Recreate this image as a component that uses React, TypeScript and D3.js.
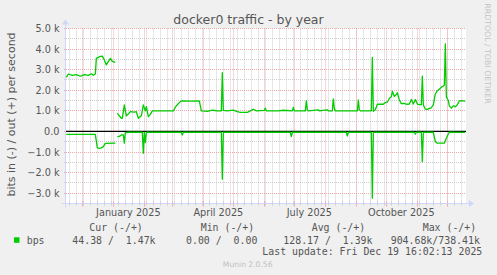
import React from "react";
import * as d3 from "d3";

const W = 497;
const H = 275;
const startTime = new Date(Date.UTC(2024, 10, 14, 16, 2, 13));
const endTime = new Date(Date.UTC(2025, 11, 19, 16, 2, 13));

// bits out (+) per second
const outSeries: [string, number | null][] = [
  ["2024-11-15", 2630], ["2024-11-17", 2790], ["2024-11-21", 2720], ["2024-11-25", 2760],
  ["2024-11-29", 2680], ["2024-12-03", 2760], ["2024-12-07", 2720], ["2024-12-10", 2800],
  ["2024-12-12", 2730], ["2024-12-14", 2790], ["2024-12-15", 3550], ["2024-12-17", 3600],
  ["2024-12-19", 3650], ["2024-12-21", 3660], ["2024-12-23", 3470], ["2024-12-25", 3230],
  ["2024-12-27", 3390], ["2024-12-29", 3550], ["2024-12-31", 3400], ["2025-01-03", 3360],
  ["2025-01-04", null],
  ["2025-01-05", 880], ["2025-01-09", 640], ["2025-01-10", 650], ["2025-01-12", 1290],
  ["2025-01-14", 760], ["2025-01-16", 850], ["2025-01-18", 960], ["2025-01-22", 940],
  ["2025-01-24", 960], ["2025-01-26", 640], ["2025-01-29", 760], ["2025-01-31", 1290],
  ["2025-02-02", 1000], ["2025-02-03", 1200], ["2025-02-05", 720], ["2025-02-07", 830],
  ["2025-02-09", 1000], ["2025-02-28", 1000], ["2025-03-02", 1000], ["2025-03-05", 1250],
  ["2025-03-09", 1450], ["2025-03-11", 1480], ["2025-03-20", 1470], ["2025-03-28", 1480],
  ["2025-03-30", 1000], ["2025-04-05", 980], ["2025-04-10", 1030], ["2025-04-15", 1000],
  ["2025-04-19", 1000], ["2025-04-20", 2850], ["2025-04-21", 1020], ["2025-04-25", 1000],
  ["2025-05-01", 1040], ["2025-05-05", 960], ["2025-05-08", 930], ["2025-05-15", 930],
  ["2025-05-18", 1000], ["2025-05-21", 1080], ["2025-05-24", 1000], ["2025-06-01", 1020],
  ["2025-06-02", 1130], ["2025-06-03", 1000], ["2025-06-15", 1000], ["2025-06-20", 1030],
  ["2025-06-29", 1000], ["2025-06-30", 1170], ["2025-07-01", 1000], ["2025-07-12", 1000],
  ["2025-07-13", 1480], ["2025-07-14", 1060], ["2025-07-15", 1000], ["2025-07-25", 1050],
  ["2025-07-26", 1000], ["2025-08-03", 1050], ["2025-08-04", 1000], ["2025-08-08", 1000],
  ["2025-08-09", 1580], ["2025-08-10", 1100], ["2025-08-11", 1000], ["2025-09-02", 1000],
  ["2025-09-03", 1530], ["2025-09-04", 1050], ["2025-09-05", 1000], ["2025-09-16", 1000],
  ["2025-09-17", 3600], ["2025-09-18", 980], ["2025-09-20", 1050], ["2025-09-22", 1320],
  ["2025-09-28", 1320], ["2025-09-30", 1400], ["2025-10-02", 1420], ["2025-10-04", 1600],
  ["2025-10-06", 1690], ["2025-10-07", 1950], ["2025-10-09", 1700], ["2025-10-11", 1800],
  ["2025-10-12", 1880], ["2025-10-14", 1530], ["2025-10-16", 1350], ["2025-10-19", 1360],
  ["2025-10-21", 1320], ["2025-10-24", 1330], ["2025-10-26", 1550], ["2025-10-28", 1330],
  ["2025-10-30", 1550], ["2025-11-01", 1330], ["2025-11-03", 1300], ["2025-11-05", 1300],
  ["2025-11-06", 2690], ["2025-11-07", 1300], ["2025-11-09", 1080], ["2025-11-11", 1070],
  ["2025-11-13", 1120], ["2025-11-15", 1150], ["2025-11-17", 1300], ["2025-11-19", 1820],
  ["2025-11-21", 1980], ["2025-11-23", 2050], ["2025-11-25", 2150], ["2025-11-27", 2210],
  ["2025-11-28", 2250], ["2025-11-29", 4250], ["2025-11-30", 1680], ["2025-12-02", 1500],
  ["2025-12-03", 1240], ["2025-12-05", 1130], ["2025-12-07", 1250], ["2025-12-09", 1200],
  ["2025-12-11", 1300], ["2025-12-13", 1480], ["2025-12-15", 1500], ["2025-12-19", 1470],
];

// bits in (-) per second
const inSeries: [string, number | null][] = [
  ["2024-11-15", -140], ["2024-12-14", -140], ["2024-12-16", -800], ["2024-12-18", -820],
  ["2024-12-20", -800], ["2024-12-22", -740], ["2024-12-24", -580], ["2025-01-03", -570],
  ["2025-01-04", null],
  ["2025-01-05", -250], ["2025-01-07", -240], ["2025-01-09", -170], ["2025-01-11", -170],
  ["2025-01-12", -570], ["2025-01-13", -60], ["2025-01-15", -40], ["2025-01-30", -40],
  ["2025-01-31", -1060], ["2025-02-01", -40], ["2025-02-02", -540], ["2025-02-03", -40],
  ["2025-03-10", -40], ["2025-03-11", -170], ["2025-03-12", -40], ["2025-04-19", -40],
  ["2025-04-20", -2320], ["2025-04-21", -40], ["2025-06-27", -40], ["2025-06-28", -250],
  ["2025-06-29", -40], ["2025-08-22", -40], ["2025-08-23", -220], ["2025-08-24", -40],
  ["2025-09-16", -40], ["2025-09-17", -3240], ["2025-09-18", -40], ["2025-10-29", -40],
  ["2025-10-30", -130], ["2025-10-31", -40], ["2025-11-05", -40], ["2025-11-06", -1470],
  ["2025-11-07", -40], ["2025-11-17", -40], ["2025-11-19", -500], ["2025-11-21", -570],
  ["2025-11-28", -570], ["2025-11-30", -330], ["2025-12-01", -220], ["2025-12-03", -40],
  ["2025-12-19", -44],
];

const yTickValues = [-3000, -2000, -1000, 0, 1000, 2000, 3000, 4000, 5000];
const xLabelMonths: [string, string][] = [
  ["2025-01-01", "January 2025"],
  ["2025-04-01", "April 2025"],
  ["2025-07-01", "July 2025"],
  ["2025-10-01", "October 2025"],
];
const legendHeaders = ["Cur (-/+)", "Min (-/+)", "Avg (-/+)", "Max (-/+)"];
const legendValues = ["44.38 /  1.47k", "0.00 /  0.00", "128.17 /  1.39k", "904.68k/738.41k"];
const seriesName = "bps";
const lastUpdate = "Last update: Fri Dec 19 16:02:13 2025";

const parse = d3.utcParse("%Y-%m-%d");

export default function App() {
  const x0 = 66, x1 = 466, yTop = 28.5, yBot = 203.5;
  const x = d3.scaleUtc().domain([startTime, endTime]).range([x0, x1]);
  const y = d3.scaleLinear().domain([-3500, 5000]).range([yBot, yTop]);

  const line = d3
    .line<[string, number | null]>()
    .defined((d) => d[1] !== null)
    .x((d) => x(parse(d[0]) as Date))
    .y((d) => y(d[1] as number));

  const minorY = d3.range(-3500, 5001, 500).filter((v) => v % 1000 !== 0);
  const weeks = d3.utcMonday.range(startTime, endTime);
  const months = d3.utcMonth.range(startTime, endTime);
  const fmtTick = (v: number) => (v === 0 ? "0.0" : `${d3.format(".1f")(v / 1000)} k`);
  const crisp = (v: number) => Math.round(v - 0.5) + 0.5;

  const axisCol = "#CFD6F8";
  const gridCol = "#cdcdcd";
  const mgridCol = "#eeaaaa";
  const textCol = "#555";
  const sans = "'DejaVu Sans', sans-serif";
  const mono = "'DejaVu Sans Mono', monospace";
  const legendX = [89.3, 200.7, 311.7, 422.7];
  const valueX = [72.3, 186, 283.3, 390.7];

  return (
    <svg
      width={W}
      height={H}
      style={{ position: "absolute", left: 0, top: 0, display: "block" }}
      xmlns="http://www.w3.org/2000/svg"
    >
      <rect x={0} y={0} width={W} height={H} fill="#F0F0F0" />
      <rect x={x0} y={yTop} width={x1 - x0} height={yBot - yTop} fill="#fff" />

      {/* minor grid */}
      {minorY.map((v) => (
        <line key={"my" + v} x1={x0 - 2} x2={x1} y1={crisp(y(v))} y2={crisp(y(v))}
          stroke={gridCol} strokeDasharray="1,1" />
      ))}
      {weeks.map((d, i) => (
        <g key={"wk" + i}>
          <line x1={crisp(x(d))} x2={crisp(x(d))} y1={yTop} y2={yBot}
            stroke={gridCol} strokeDasharray="1,1" />
          <line x1={crisp(x(d))} x2={crisp(x(d))} y1={yBot - 2} y2={yBot + 2} stroke={gridCol} />
        </g>
      ))}
      {/* major grid */}
      {yTickValues.map((v) => (
        <line key={"My" + v} x1={x0 - 2} x2={x1} y1={crisp(y(v))} y2={crisp(y(v))}
          stroke={mgridCol} strokeDasharray="1,1" />
      ))}
      {months.map((d, i) => (
        <g key={"mo" + i}>
          <line x1={crisp(x(d))} x2={crisp(x(d))} y1={yTop} y2={yBot}
            stroke={mgridCol} strokeDasharray="1,1" />
          <line x1={crisp(x(d))} x2={crisp(x(d))} y1={yBot - 2} y2={yBot + 3} stroke={mgridCol} />
        </g>
      ))}

      {/* axes */}
      <line x1={x0 - 4} x2={x1 + 4} y1={yBot} y2={yBot} stroke={axisCol} />
      <line x1={x0 - 0.5} x2={x0 - 0.5} y1={yBot + 4} y2={yTop - 4} stroke={axisCol} />
      <path d={`M${x1 + 3},${yBot - 3.5} L${x1 + 3},${yBot + 3.5} L${x1 + 8},${yBot} Z`} fill={axisCol} />
      <path d={`M${x0 - 4},${yTop - 4} L${x0 + 3},${yTop - 4} L${x0 - 0.5},${yTop - 9} Z`} fill={axisCol} />

      {/* zero rule */}
      <line x1={x0} x2={x1} y1={y(0)} y2={y(0)} stroke="#000" strokeWidth={1.2} />

      {/* series */}
      <path d={line(outSeries) || ""} fill="none" stroke="#00CC00" strokeWidth={1.3} strokeLinejoin="round" />
      <path d={line(inSeries) || ""} fill="none" stroke="#00CC00" strokeWidth={1.3} strokeLinejoin="round" />

      {/* y tick labels */}
      {yTickValues.map((v) => (
        <text key={"yl" + v} x={59.5} y={y(v) + 3.5} textAnchor="end" fontFamily={sans}
          fontSize={9.7} fill={textCol}>
          {fmtTick(v)}
        </text>
      ))}
      {/* x labels */}
      {xLabelMonths.map(([m, label]) => {
        const d = parse(m) as Date;
        const c = x(new Date(d.getTime() + 15 * 86400000));
        return (
          <text key={label} x={c} y={216.3} textAnchor="middle" fontFamily={sans}
            fontSize={9.7} fill={textCol}>
            {label}
          </text>
        );
      })}

      {/* title */}
      <text x={248.5} y={24} textAnchor="middle" fontFamily={sans} fontSize={12.5} fill={textCol}>
        docker0 traffic - by year
      </text>

      {/* y axis label */}
      <text transform="translate(15,114.5) rotate(-90)" textAnchor="middle" fontFamily={sans}
        fontSize={11} fill={textCol}>
        bits in (-) / out (+) per second
      </text>

      {/* watermark */}
      <text transform="translate(484.5,53.5) rotate(90)" textAnchor="middle" fontFamily={sans}
        fontSize={7.8} fill="#c4c4c4">
        RRDTOOL / TOBI OETIKER
      </text>

      {/* legend */}
      {legendHeaders.map((h, i) => (
        <text key={h} x={legendX[i]} y={230.8} fontFamily={mono} fontSize={9.9} fill={textCol}
          style={{ whiteSpace: "pre" }}>
          {h}
        </text>
      ))}
      <rect x={14} y={237.3} width={5.5} height={5.5} fill="#00CC00" />
      <text x={26.7} y={243.5} fontFamily={mono} fontSize={9.9} fill={textCol}>{seriesName}</text>
      {legendValues.map((v, i) => (
        <text key={"lv" + i} x={valueX[i]} y={243.5} fontFamily={mono} fontSize={9.9} fill={textCol}
          style={{ whiteSpace: "pre" }}>
          {v}
        </text>
      ))}
      <text x={482.3} y={255.3} textAnchor="end" fontFamily={mono} fontSize={9.9} fill={textCol}>
        {lastUpdate}
      </text>
      <text x={247.7} y={266.8} textAnchor="middle" fontFamily={sans} fontSize={7.6} fill="#c0c0c0">
        Munin 2.0.56
      </text>
    </svg>
  );
}
